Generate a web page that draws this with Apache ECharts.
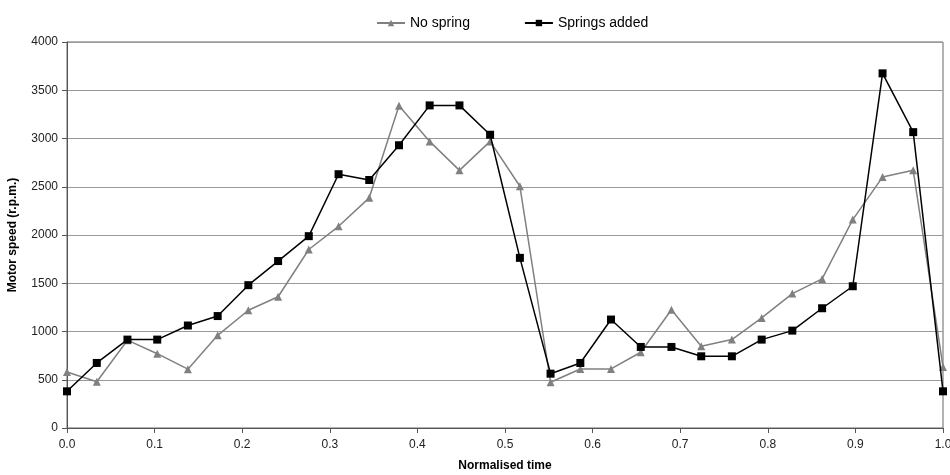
<!DOCTYPE html>
<html><head><meta charset="utf-8">
<script src="https://cdn.jsdelivr.net/npm/echarts@6/dist/echarts.min.js"></script>
<style>html,body{margin:0;padding:0;background:#fff}#c{width:950px;height:475px}</style>
</head><body><div id="c"></div>
<script>
const time = [0.000,0.034,0.069,0.103,0.138,0.172,0.207,0.241,0.276,0.310,0.345,0.379,0.414,0.448,0.483,0.517,0.552,0.586,0.621,0.655,0.690,0.724,0.759,0.793,0.828,0.862,0.897,0.931,0.966,1.000];
const noSpring = [580,480,910,770,610,960,1220,1360,1850,2090,2385,3340,2970,2670,2970,2505,474,612,612,785,1225,847,916,1141,1393,1545,2160,2600,2670,633];
const springsAdded = [380,674,916,916,1062,1160,1480,1730,1988,2630,2570,2930,3343,3343,3039,1763,563,674,1124,840,840,743,743,916,1009,1241,1469,3675,3066,380];
const xTicks = ['0.0','0.1','0.2','0.3','0.4','0.5','0.6','0.7','0.8','0.9','1.0'];

const chart = echarts.init(document.getElementById('c'));
const font = 'Liberation Sans, Arial, sans-serif';
chart.setOption({
  backgroundColor:'#fff',
  animation:false,
  textStyle:{fontFamily:font},
  legend:{top:11,left:371,itemGap:54,itemWidth:28,itemHeight:8,
    textStyle:{fontSize:14,color:'#000',fontFamily:font},
    data:['No spring','Springs added']},
  grid:{left:67,right:7,top:42,bottom:47,outerBoundsMode:'none',containLabel:false,
    show:true,borderColor:'#666',borderWidth:1,backgroundColor:'transparent'},
  xAxis:{type:'value',min:0,max:1,interval:0.1,
    name:'Normalised time',nameLocation:'middle',nameGap:32,
    nameTextStyle:{fontWeight:'bold',fontSize:12,color:'#000',fontFamily:font},
    axisLine:{lineStyle:{color:'#555'}},
    axisTick:{show:true,inside:false,length:5,lineStyle:{color:'#555'}},
    splitLine:{show:false},
    axisLabel:{color:'#222',fontSize:12,margin:11,formatter:v=>xTicks[Math.round(v*10)]}},
  yAxis:{type:'value',min:0,max:4000,interval:500,
    name:'Motor speed (r.p.m.)',nameLocation:'middle',nameGap:48,nameRotate:90,
    nameTextStyle:{fontWeight:'bold',fontSize:12,color:'#000',fontFamily:font},
    axisLine:{show:true,lineStyle:{color:'#555'}},
    axisTick:{show:true,length:5,lineStyle:{color:'#555'}},
    splitLine:{lineStyle:{color:'#999',width:1}},
    axisLabel:{color:'#222',fontSize:12,margin:9,formatter:v=>String(v)}},
  series:[
    {name:'No spring',type:'line',data:time.map((t,i)=>[t,noSpring[i]]),
      symbol:'triangle',symbolSize:8,color:'#808080',
      lineStyle:{color:'#808080',width:1.5},itemStyle:{color:'#808080'},z:2},
    {name:'Springs added',type:'line',data:time.map((t,i)=>[t,springsAdded[i]]),
      symbol:'rect',symbolSize:8,color:'#000',
      lineStyle:{color:'#000',width:1.5},itemStyle:{color:'#000'},z:3}
  ]
});
</script></body></html>
